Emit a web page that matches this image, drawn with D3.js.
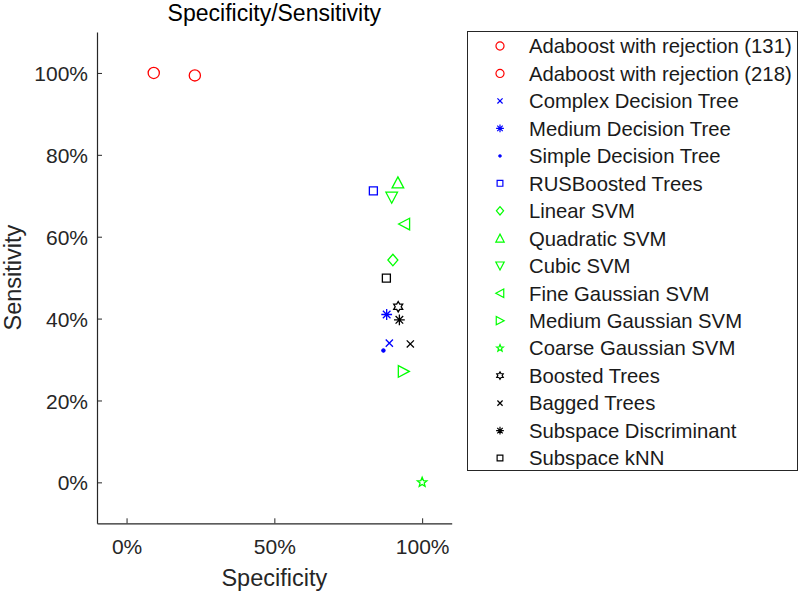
<!DOCTYPE html>
<html><head><meta charset="utf-8">
<script src="https://cdn.jsdelivr.net/npm/d3@7"></script>
<style>body{margin:0;background:#fff;} svg{display:block;font-family:"Liberation Sans",Arial,sans-serif;}</style>
</head><body>
<svg id="chart" width="800" height="595"></svg>
<script>
const names = ["Adaboost with rejection (131)","Adaboost with rejection (218)","Complex Decision Tree","Medium Decision Tree","Simple Decision Tree","RUSBoosted Trees","Linear SVM","Quadratic SVM","Cubic SVM","Fine Gaussian SVM","Medium Gaussian SVM","Coarse Gaussian SVM","Boosted Trees","Bagged Trees","Subspace Discriminant","Subspace kNN"];
const specificity = [0.092,0.231,0.889,0.880,0.869,0.835,0.901,0.918,0.897,0.940,0.937,1.000,0.919,0.960,0.923,0.879];
const sensitivity = [1.000,0.994,0.340,0.410,0.322,0.712,0.543,0.732,0.696,0.631,0.271,0.000,0.429,0.338,0.397,0.499];
const colors = ["#ff0000","#ff0000","#0000ff","#0000ff","#0000ff","#0000ff","#00ff00","#00ff00","#00ff00","#00ff00","#00ff00","#00ff00","#000000","#000000","#000000","#000000"];
const markers = ["o","o","x","*",".","s","d","^","v","<",">","p","h","x","*","s"];
const xTicks = [0,0.5,1];
const yTicks = [0,0.2,0.4,0.6,0.8,1];

const svg = d3.select("#chart");
const L = 97, R = 451.7, T = 32, B = 523.3;
const x = d3.scaleLinear().domain([-0.1,1.1]).range([L,R]);
const y = d3.scaleLinear().domain([-0.1,1.1]).range([B,T]);
const axisColor = "#262626";
const pct = d => Math.round(d*100) + "%";

// axes
const gx = svg.append("g").attr("transform",`translate(0,${B})`)
  .call(d3.axisBottom(x).tickValues(xTicks).tickFormat(pct).tickSizeInner(-5).tickSizeOuter(0).tickPadding(16));
const gy = svg.append("g").attr("transform",`translate(${L},0)`)
  .call(d3.axisLeft(y).tickValues(yTicks).tickFormat(pct).tickSizeInner(-5).tickSizeOuter(0).tickPadding(9));
[gx,gy].forEach(g=>{
  g.select(".domain").attr("stroke",axisColor).attr("stroke-width",1.2);
  g.selectAll(".tick line").attr("stroke",axisColor).attr("stroke-width",1);
  g.selectAll(".tick text").attr("fill",axisColor).attr("font-size",21).attr("font-family","Liberation Sans, Arial, sans-serif");
});
gx.selectAll(".tick text").attr("dy","0.72em");
gy.selectAll(".tick text").attr("dy","0.36em");

svg.append("text").attr("x",(L+R)/2).attr("y",20.5).attr("text-anchor","middle")
  .attr("font-size",23).attr("fill","#000").text("Specificity/Sensitivity");
svg.append("text").attr("x",(L+R)/2).attr("y",586).attr("text-anchor","middle")
  .attr("font-size",23.5).attr("fill",axisColor).text("Specificity");
svg.append("text").attr("transform",`translate(21,${(T+B)/2}) rotate(-90)`).attr("text-anchor","middle")
  .attr("font-size",23.5).attr("fill",axisColor).text("Sensitivity");

function starPath(n, ro, ri, rot){
  const pts=[];
  for(let i=0;i<2*n;i++){
    const r = i%2===0?ro:ri;
    const a = rot + i*Math.PI/n;
    pts.push([r*Math.cos(a), r*Math.sin(a)]);
  }
  return "M"+pts.map(p=>p[0].toFixed(2)+","+p[1].toFixed(2)).join("L")+"Z";
}
function markerPath(m, k){
  switch(m){
    case "o": { const r=5.6*k; return `M${r},0A${r},${r} 0 1,1 ${-r},0A${r},${r} 0 1,1 ${r},0Z`; }
    case "x": { const a=3.6*k; return `M${-a},${-a}L${a},${a}M${-a},${a}L${a},${-a}`; }
    case "*": { const a=5.4*k, b=3.8*k; return `M${-a},0L${a},0M0,${-a}L0,${a}M${-b},${-b}L${b},${b}M${-b},${b}L${b},${-b}`; }
    case ".": { const r=1.6*k; return `M${r},0A${r},${r} 0 1,1 ${-r},0A${r},${r} 0 1,1 ${r},0Z`; }
    case "s": { const a=4*k; return `M${-a},${-a}L${a},${-a}L${a},${a}L${-a},${a}Z`; }
    case "d": { const a=5.8*k, b=5*k; return `M0,${-a}L${b},0L0,${a}L${-b},0Z`; }
    case "^": { const a=5.8*k, b=5.2*k; return `M0,${-a}L${a},${b}L${-a},${b}Z`; }
    case "v": { const a=5.8*k, b=5.2*k; return `M0,${a}L${a},${-b}L${-a},${-b}Z`; }
    case "<": { const a=5.8*k, b=5.2*k; return `M${-a},0L${b},${-a}L${b},${a}Z`; }
    case ">": { const a=5.8*k, b=5.2*k; return `M${a},0L${-b},${-a}L${-b},${a}Z`; }
    case "p": return starPath(5, 5*k, 2.2*k, -Math.PI/2);
    case "h": return starPath(6, 5.2*k, 3.0*k, -Math.PI/2);
  }
}

const data = names.map((n,i)=>({name:n, sx:specificity[i], sy:sensitivity[i], c:colors[i], m:markers[i]}));

svg.append("g").selectAll("path").data(data).join("path")
  .attr("transform",d=>`translate(${x(d.sx)},${y(d.sy)})`)
  .attr("d",d=>markerPath(d.m,1))
  .attr("fill",d=>d.m==="."?d.c:"none")
  .attr("stroke",d=>d.c).attr("stroke-width",1.3);

// legend
const lg = svg.append("g");
lg.append("rect").attr("x",467.5).attr("y",31.5).attr("width",330).attr("height",439)
  .attr("fill","#fff").attr("stroke",axisColor).attr("stroke-width",1);
const rowY = i => 46 + i*27.47;
lg.selectAll("path").data(data).join("path")
  .attr("transform",(d,i)=>`translate(500,${rowY(i)})`)
  .attr("d",d=>markerPath(d.m,0.72))
  .attr("fill",d=>d.m==="."?d.c:"none")
  .attr("stroke",d=>d.c).attr("stroke-width",1.2);
lg.selectAll("text").data(data).join("text")
  .attr("x",529).attr("y",(d,i)=>rowY(i)).attr("dy","0.36em")
  .attr("font-size",20.3).attr("fill","#1a1a1a").text(d=>d.name);
</script>
</body></html>
